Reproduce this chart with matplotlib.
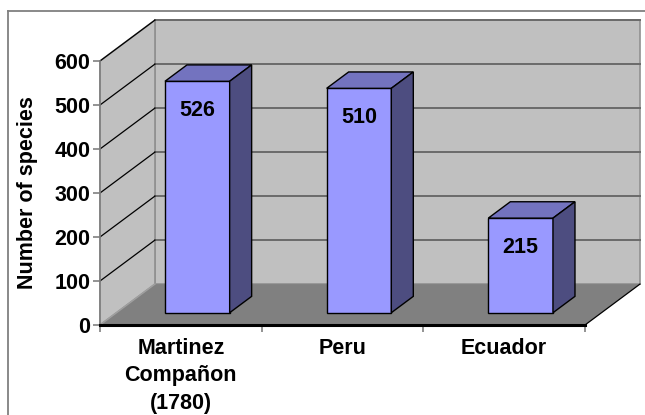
import matplotlib
matplotlib.use("Agg")
import matplotlib.pyplot as plt
from matplotlib.patches import Polygon
from matplotlib.lines import Line2D

plt.rcParams['font.family'] = ['Liberation Sans', 'DejaVu Sans']

# Data
categories = ["Martinez\nCompañon\n(1780)", "Peru", "Ecuador"]
species = [526, 510, 215]
y_ticks = [0, 100, 200, 300, 400, 500, 600]
y_label = "Number of species"

# 3D styling
WALL = "#c0c0c0"
FLOOR = "#808080"
FRONT = "#9999ff"
TOP = "#7373bf"
SIDE = "#4d4d80"
GRID = "#6a6a6a"
FS = 15.5

fig = plt.figure(figsize=(6.45, 4.15), dpi=100)
ax = fig.add_axes([100 / 645, 90 / 415, 485 / 645, 264 / 415])
ax.set_xlim(0, len(categories))
ax.set_ylim(0, y_ticks[-1])
ax.patch.set_visible(False)

# oblique depth vector in data units
DX, DY = 0.34, 93.0
ymax = y_ticks[-1]
n = len(categories)

# walls and floor
ax.add_patch(Polygon([(DX, DY), (n + DX, DY), (n + DX, ymax + DY), (DX, ymax + DY)],
                     closed=True, facecolor=WALL, edgecolor="#909090", lw=1.2,
                     clip_on=False, zorder=0.5))
ax.add_patch(Polygon([(0, 0), (DX, DY), (DX, ymax + DY), (0, ymax)],
                     closed=True, facecolor=WALL, edgecolor="#909090", lw=1.2,
                     clip_on=False, zorder=0.6))
for v in y_ticks[1:]:
    ax.plot([DX, n + DX], [v + DY, v + DY], color=GRID, lw=1.4,
            clip_on=False, zorder=0.7)
    ax.plot([0, DX], [v, v + DY], color="black", lw=0.9,
            clip_on=False, zorder=0.7)
ax.add_patch(Polygon([(0, 0), (n, 0), (n + DX, DY), (DX, DY)],
                     closed=True, facecolor=FLOOR, edgecolor="none",
                     clip_on=False, zorder=0.8))
ax.plot([n, n + DX], [0, DY], color="black", lw=0.9, clip_on=False, zorder=0.9)
ax.plot([0, DX], [0, DY], color="#a0a0a0", lw=1.0, clip_on=False, zorder=0.9)

# bars
w = 0.4
f0, f1 = 0.3, 0.7
centers = [i + 0.5 for i in range(n)]
fx = [c + f0 * DX for c in centers]
ax.bar(fx, species, width=w, bottom=f0 * DY, color=FRONT,
       edgecolor="black", linewidth=1.0, zorder=3)
d = (f1 - f0)
for x, v in zip(fx, species):
    x0, x1 = x - w / 2, x + w / 2
    ytop = v + f0 * DY
    ax.add_patch(Polygon([(x0, ytop), (x1, ytop), (x1 + d * DX, ytop + d * DY),
                          (x0 + d * DX, ytop + d * DY)], closed=True,
                         facecolor=TOP, edgecolor="black", lw=1.0,
                         clip_on=False, zorder=3))
    ax.add_patch(Polygon([(x1, f0 * DY), (x1 + d * DX, f0 * DY + d * DY),
                          (x1 + d * DX, ytop + d * DY), (x1, ytop)], closed=True,
                         facecolor=SIDE, edgecolor="black", lw=1.0,
                         clip_on=False, zorder=3))
    ax.annotate(f"{v}", xy=(x, ytop), xytext=(0, -29), textcoords="offset pixels",
                ha="center", va="center", fontsize=FS, fontweight="bold",
                zorder=4)

# axes
for s in ("top", "right"):
    ax.spines[s].set_visible(False)
ax.spines["left"].set_color("#808080")
ax.spines["left"].set_linewidth(1.2)
ax.spines["bottom"].set_color("black")
ax.spines["bottom"].set_linewidth(2.2)
ax.set_yticks(y_ticks)
ax.set_yticklabels([str(t) for t in y_ticks], fontsize=FS, fontweight="bold")
ax.tick_params(axis="y", direction="out", length=5, width=1.2, color="#808080", pad=2)
ax.set_xticks(centers)
ax.set_xticklabels(categories, fontsize=FS, fontweight="bold", linespacing=1.42)
ax.set_xticks(range(n + 1), minor=True)
ax.tick_params(axis="x", which="major", length=0, pad=9)
ax.tick_params(axis="x", which="minor", direction="out", length=5, width=1.2,
               color="#808080")
ax.set_ylabel(y_label, fontsize=FS, fontweight="bold")
ax.yaxis.set_label_coords(-0.128, 0.5)

# chart border
fig.add_artist(Line2D([8 / 645, 8 / 645], [0, 1 - 11 / 415], color="#808080", lw=1.3))
fig.add_artist(Line2D([8 / 645, 1], [1 - 11 / 415, 1 - 11 / 415], color="#808080", lw=1.3))

fig.savefig("out.png", dpi=100)
